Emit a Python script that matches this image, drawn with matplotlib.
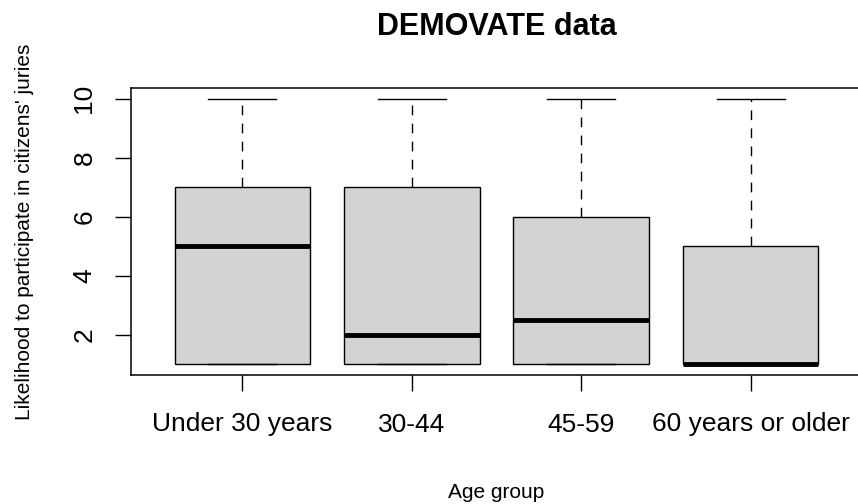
import matplotlib.pyplot as plt

plt.rcParams['font.family'] = ['Liberation Sans', 'DejaVu Sans']

groups = ['Under 30 years', '30-44', '45-59', '60 years or older']
whis_lo = [1, 1, 1, 1]
q1 = [1, 1, 1, 1]
medians = [5, 2, 2.5, 1]
q3 = [7, 7, 6, 5]
whis_hi = [10, 10, 10, 10]
yticks = [2, 4, 6, 8, 10]

stats = []
for g, lo, a, m, b, hi in zip(groups, whis_lo, q1, medians, q3, whis_hi):
    stats.append(dict(label=g, whislo=lo, q1=a, med=m, q3=b, whishi=hi, fliers=[]))

fig = plt.figure(figsize=(8.58, 5.04), dpi=100)
# plot region like R: right edge falls just outside the image
ax = fig.add_axes([130.5 / 858, 1 - 375 / 504, (862.5 - 130.5) / 858, (375 - 88) / 504])

ax.bxp(stats, positions=range(1, len(groups) + 1), widths=0.8, capwidths=0.4,
       patch_artist=True,
       boxprops=dict(facecolor='#d3d3d3', edgecolor='black', linewidth=1.0),
       medianprops=dict(color='black', linewidth=3.5, solid_capstyle='butt'),
       whiskerprops=dict(color='black', linewidth=1.0, linestyle=(0, (7, 6))),
       capprops=dict(color='black', linewidth=1.0))

ax.set_xlim(0.34, 4.66)
ax.set_ylim(0.64, 10.36)
ax.set_yticks(yticks)
ax.set_yticklabels([str(t) for t in yticks], rotation=90, va='center')

for s in ax.spines.values():
    s.set_linewidth(1.1)
ax.tick_params(axis='both', length=11.5, width=1.0, labelsize=19)
ax.tick_params(axis='x', pad=15.5)
ax.tick_params(axis='y', pad=13)

ax.set_title('DEMOVATE data', fontsize=22, fontweight='bold', pad=38)
ax.set_xlabel('Age group', fontsize=15, labelpad=33.5)
ax.set_ylabel("Likelihood to participate in citizens' juries", fontsize=15, labelpad=27.5)

fig.savefig('out.png', dpi=100)
